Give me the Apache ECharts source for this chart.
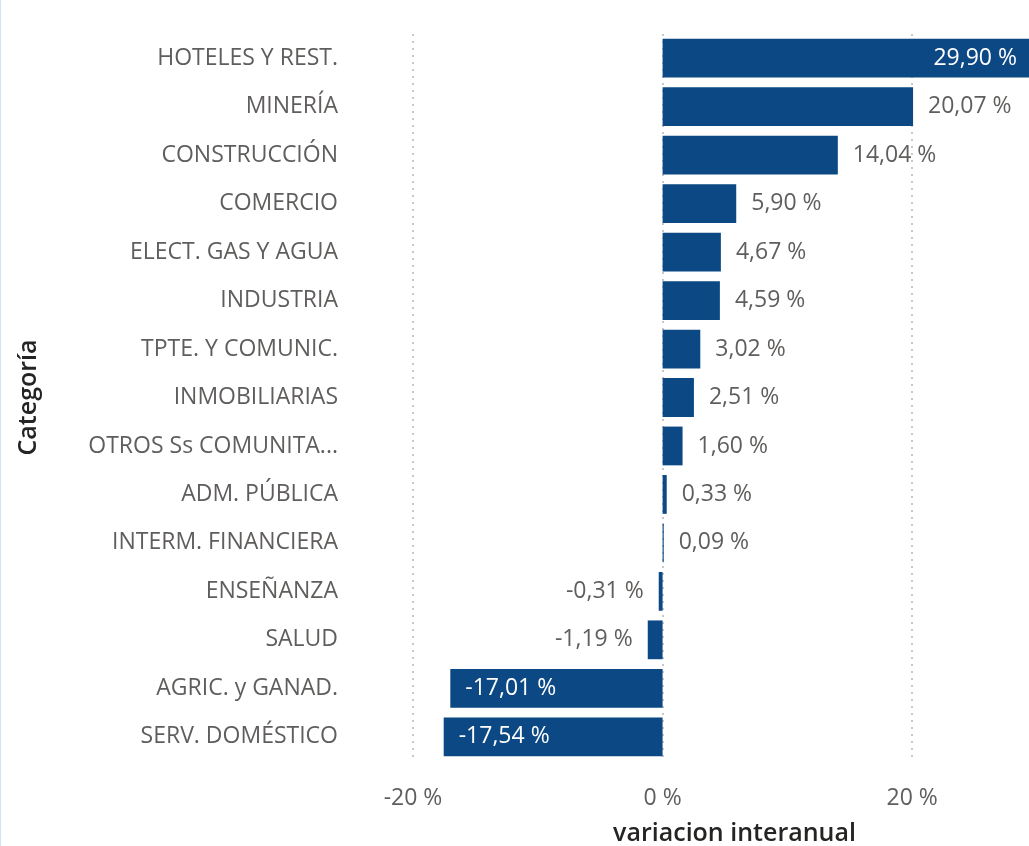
<!DOCTYPE html>
<html>
<head>
<meta charset="utf-8">
<script src="https://cdn.jsdelivr.net/npm/echarts@6/dist/echarts.min.js"></script>
<style>
  html, body { margin: 0; padding: 0; background: #fff; }
  #chart { width: 1029px; height: 846px; box-sizing: border-box; border-left: 1px solid #cfe3f7; }
</style>
</head>
<body>
<div id="chart"></div>
<script>
const categories = [
  'HOTELES Y REST.', 'MINERÍA', 'CONSTRUCCIÓN', 'COMERCIO', 'ELECT. GAS Y AGUA',
  'INDUSTRIA', 'TPTE. Y COMUNIC.', 'INMOBILIARIAS', 'OTROS Ss COMUNITA...', 'ADM. PÚBLICA',
  'INTERM. FINANCIERA', 'ENSEÑANZA', 'SALUD', 'AGRIC. y GANAD.', 'SERV. DOMÉSTICO'
]
const values = [29.90, 20.07, 14.04, 5.90, 4.67, 4.59, 3.02, 2.51, 1.60, 0.33, 0.09, -0.31, -1.19, -17.01, -17.54]
const xTicks = [-20, 0, 20]

const font = '"Segoe UI", "Open Sans", "Noto Sans", sans-serif'
const fmt = v => v.toFixed(2).replace('.', ',') + ' %'

// pick label placement from the bar length
const barData = values.map(v => {
  let label = { position: v >= 0 ? 'right' : 'left', color: '#605E5C' }
  if (v > 25) label = { position: 'insideRight', color: '#ffffff' }
  if (v < -10) label = { position: 'insideLeft', color: '#ffffff' }
  return { value: v, label }
})

const chart = echarts.init(document.getElementById('chart'))
chart.setOption({
  animation: false,
  // right edge pushed just off the canvas so the max split line is not drawn
  grid: { left: 412, right: -3, top: 34, bottom: 85, outerBoundsMode: 'none', containLabel: false },
  xAxis: {
    type: 'value',
    min: -20,
    max: 29.6,
    interval: 20,
    name: 'variacion interanual',
    nameLocation: 'middle',
    nameGap: 60,
    nameTextStyle: { fontFamily: font, fontSize: 25, fontWeight: 600, color: '#252423', padding: [0, 0, 0, 24] },
    axisLine: { show: false },
    axisTick: { show: false },
    axisLabel: {
      showMaxLabel: false,
      margin: 26,
      fontFamily: font, fontSize: 23, color: '#605E5C',
      formatter: v => (xTicks.includes(v) ? v + ' %' : '')
    },
    splitLine: { lineStyle: { color: '#c8c8c8', type: [2, 5], width: 2 } }
  },
  yAxis: {
    type: 'category',
    inverse: true,
    data: categories,
    name: 'Categoría',
    nameLocation: 'middle',
    nameRotate: 90,
    nameGap: 372,
    nameTextStyle: { fontFamily: font, fontSize: 25, fontWeight: 600, color: '#252423' },
    axisLine: { show: false },
    axisTick: { show: false },
    axisLabel: { margin: 75, fontFamily: font, fontSize: 23, color: '#605E5C' }
  },
  series: [{
    type: 'bar',
    data: barData,
    barCategoryGap: '20%',
    itemStyle: { color: '#0B4884' },
    label: {
      show: true,
      distance: 15,
      fontFamily: font,
      fontSize: 23,
      formatter: p => fmt(p.value)
    }
  }]
})
</script>
</body>
</html>
